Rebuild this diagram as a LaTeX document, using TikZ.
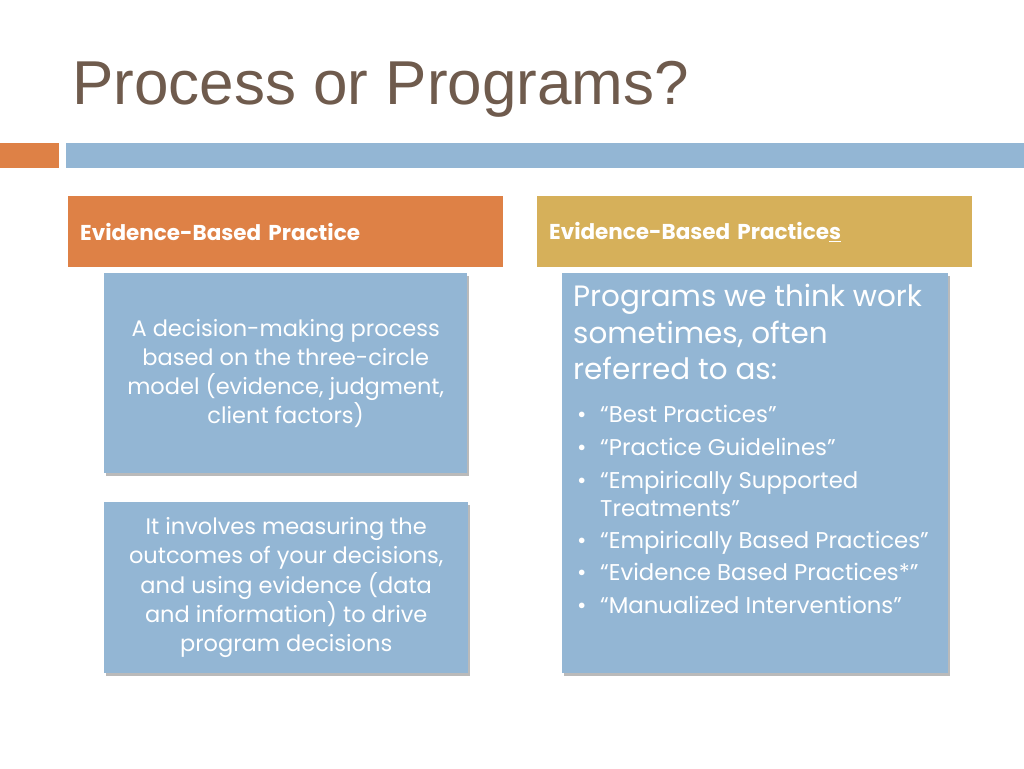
\documentclass[tikz,border=0pt]{standalone}
\usepackage{fontspec}
\setmainfont{Poppins}
\newfontfamily\titlefont{Liberation Sans}
\definecolor{titlebrown}{RGB}{111, 91, 77}
\definecolor{barorange}{RGB}{222, 129, 70}
\definecolor{hdrgold}{RGB}{214, 176, 90}
\definecolor{boxblue}{RGB}{147, 182, 212}
\usetikzlibrary{positioning, shadows}

\begin{document}
\begin{tikzpicture}[
  x=1pt, y=-1pt,
  bar/.style={fill=#1, inner sep=0pt, anchor=north west, minimum height=25pt},
  hdr/.style={fill=#1, anchor=north west, minimum width=435pt, minimum height=71pt, text width=411pt, inner xsep=12pt, align=left, text=white, font=\fontsize{21.5}{25}\selectfont\bfseries},
  bbox/.style={fill=boxblue, anchor=north west, inner sep=0pt, text=white, align=center,
    drop shadow={shadow xshift=1.5pt, shadow yshift=-2.5pt, opacity=0.45, fill=black!60}},
  btext/.style={inner sep=0pt, text=white, align=left, anchor=north west}
]
  \useasboundingbox (0,0) rectangle (1024,768);

  \node[anchor=base west, inner sep=0pt, text=titlebrown, font=\titlefont\fontsize{62}{70}\selectfont] (title) at (72,104) {Process or Programs?};

  \node[bar=barorange, minimum width=59pt] (obar) at (0,143) {};
  \node[bar=boxblue, minimum width=958pt] (bbar) at (66,143) {};

  \node[hdr=barorange] (ebp) at (68,196) {Evidence-Based Practice};
  \node[hdr=hdrgold] (ebps) at (537,196) {Evidence-Based Practice\underline{s}};

  \node[bbox, minimum width=363pt, minimum height=200pt, font=\fontsize{22.5}{29}\selectfont] (decision) at (104,273) {
    A decision-making process\\
    based on the three-circle\\
    model (evidence, judgment,\\
    client factors)
  };
  \node[bbox, minimum width=364pt, minimum height=171pt, font=\fontsize{22.5}{29.3}\selectfont] (outcomes) at (104,502) {
    It involves measuring the\\
    outcomes of your decisions,\\
    and using evidence (data\\
    and information) to drive\\
    program decisions
  };
  \node[bbox, minimum width=386pt, minimum height=400pt] (programs) at (562,273) {};
  \node[btext, font=\fontsize{29.4}{36.5}\selectfont] (plead) at (573,284) {
    Programs we think work\\
    sometimes, often\\
    referred to as:
  };
  \node[btext, font=\fontsize{22.8}{28}\selectfont] (plist) at (573,405) {
    \makebox[27pt][l]{\hspace{4pt}\textbullet}“Best Practices”\\[5pt]
    \makebox[27pt][l]{\hspace{4pt}\textbullet}“Practice Guidelines”\\[5pt]
    \makebox[27pt][l]{\hspace{4pt}\textbullet}“Empirically Supported\\
    \hspace*{27pt}Treatments”\\[4pt]
    \makebox[27pt][l]{\hspace{4pt}\textbullet}“Empirically Based Practices”\\[4pt]
    \makebox[27pt][l]{\hspace{4pt}\textbullet}“Evidence Based Practices*”\\[5pt]
    \makebox[27pt][l]{\hspace{4pt}\textbullet}“Manualized Interventions”
  };
\end{tikzpicture}
\end{document}
